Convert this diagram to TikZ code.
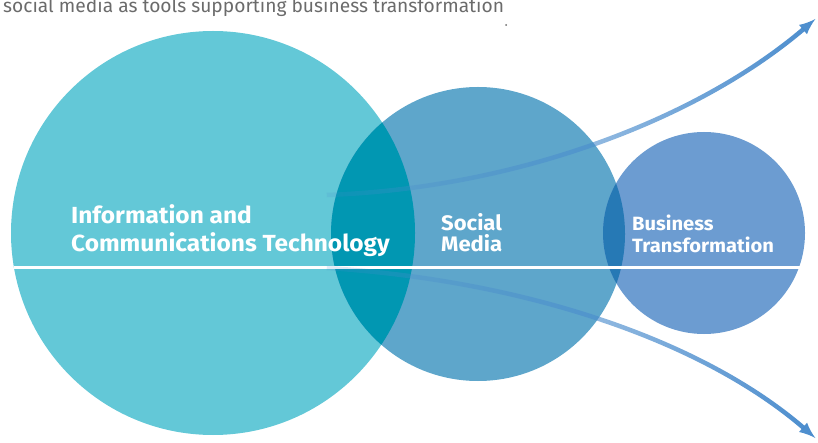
\documentclass[tikz,border=0pt]{standalone}
\usepackage{fontspec}
\setsansfont{Fira Sans}
\newfontfamily\tagfont[FakeStretch=1.05]{Fira Sans}
\usepackage{tikz}
\usetikzlibrary{arrows}
\usetikzlibrary{fadings}

\definecolor{ictcyan}{HTML}{63C8D7}
\definecolor{smblue}{HTML}{5EA6CB}
\definecolor{btblue}{HTML}{6C9CD1}
\definecolor{deepteal}{HTML}{0197B2}
\definecolor{deepblue}{HTML}{2679B5}
\definecolor{arrowblue}{HTML}{4A8CCD}
\definecolor{titlegray}{HTML}{6B6B6B}

\tikzfading[name=arrowfade, left color=transparent!85, right color=transparent!0]

\tikzset{
  bubble/.style={circle, inner sep=0pt, minimum size=#1},
  lbl/.style={anchor=north west, inner sep=0pt, align=left, text=white},
  flow/.style={line width=4.5pt, draw=arrowblue, -latex, path fading=arrowfade},
}

\begin{document}
\begin{tikzpicture}[x=1pt, y=-1pt]
    \clip (0,0) rectangle (818,443);

    \node[bubble=404pt, fill=ictcyan] (ict) at (213,233) {};
    \node[bubble=294pt, fill=smblue] (sm) at (478,234) {};
    \node[bubble=202pt, fill=btblue] (bt) at (704,233) {};

    \begin{scope}
        \clip (ict) circle (202pt);
        \fill[deepteal] (sm) circle (147pt);
    \end{scope}
    \begin{scope}
        \clip (sm) circle (147pt);
        \fill[deepblue] (bt) circle (101pt);
    \end{scope}

    \coordinate (lineL) at (14,268);
    \coordinate (lineR) at (800,268);
    \draw[white, line width=3pt] (lineL) -- (lineR);

    \coordinate (upStart) at (327,195);
    \coordinate (upEnd) at (816,19);
    \coordinate (downStart) at (327,268);
    \coordinate (downEnd) at (816,438);
    \draw[flow] (upStart) .. controls (520,188) and (700,118) .. (upEnd);
    \draw[flow] (downStart) .. controls (520,280) and (700,338) .. (downEnd);

    \node[lbl, font=\tagfont\bfseries\fontsize{23.3}{28.5}\selectfont] (ictlbl) at (71,204)
        {Information and\\Communications Technology};
    \node[lbl, font=\tagfont\bfseries\fontsize{21}{21}\selectfont] (smlbl) at (441,213)
        {Social\\Media};
    \node[lbl, font=\tagfont\bfseries\fontsize{19.2}{21.5}\selectfont] (btlbl) at (632,215)
        {Business\\Transformation};

    \node[anchor=base west, inner sep=0pt, text=titlegray,
          font=\sffamily\fontsize{19.2}{22}\selectfont] (title) at (3,12.5)
        {social media as tools supporting business transformation};
    \fill[titlegray] (506,25) circle (1pt);
\end{tikzpicture}
\end{document}
